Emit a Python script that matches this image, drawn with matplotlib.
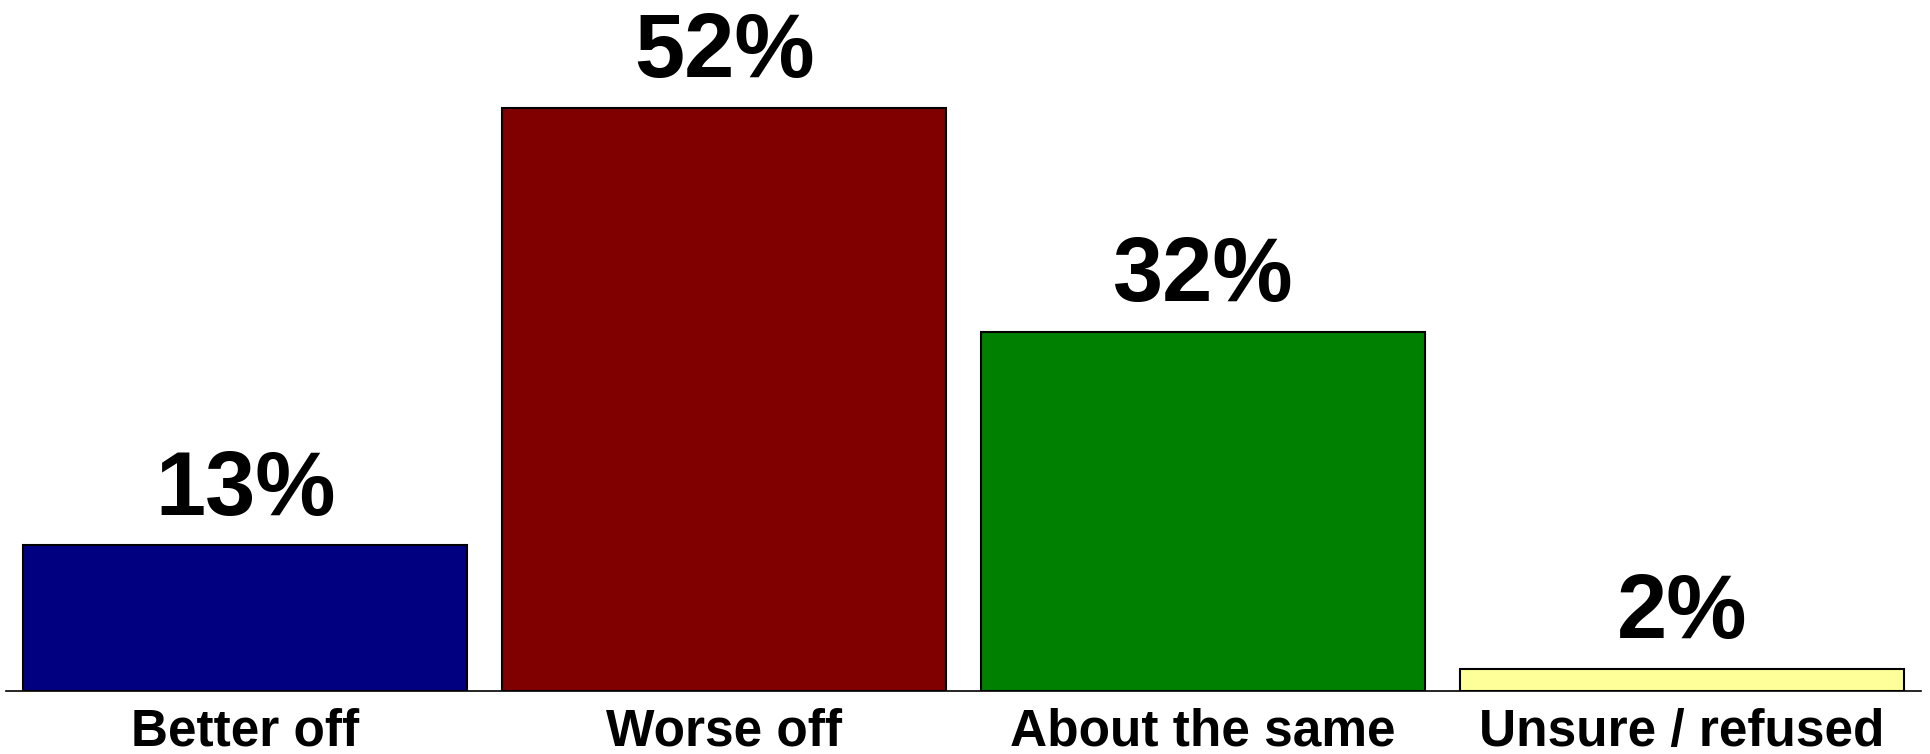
import matplotlib.pyplot as plt

# Survey responses
categories = ['Better off', 'Worse off', 'About the same', 'Unsure / refused']
values = [13, 52, 32, 2]
colors = ['#000080', '#800000', '#008000', '#FFFF99']

plt.rcParams['font.family'] = ['Liberation Sans', 'DejaVu Sans']

fig = plt.figure(figsize=(19.31, 7.54), dpi=100)
ax = fig.add_axes([0.003, 1 - 691 / 754, 0.992, 691 / 754])

x = range(len(categories))
bars = ax.bar(x, values, width=0.928, color=colors, edgecolor='black', linewidth=1.5)

for xi, v in zip(x, values):
    ax.annotate(f'{v}%', (xi, v), xytext=(0, 22), textcoords='offset points',
                ha='center', va='baseline', fontsize=65, fontweight='bold')

ax.set_xlim(-0.5, 3.5)
ax.set_ylim(0, 61.6)
ax.set_xticks(list(x))
ax.set_xticklabels(categories, fontsize=37, fontweight='bold')
ax.tick_params(axis='x', length=0, pad=12)
ax.set_yticks([])
for s in ['top', 'left', 'right']:
    ax.spines[s].set_visible(False)
ax.spines['bottom'].set_linewidth(1.2)

fig.savefig('out.png', dpi=100)
